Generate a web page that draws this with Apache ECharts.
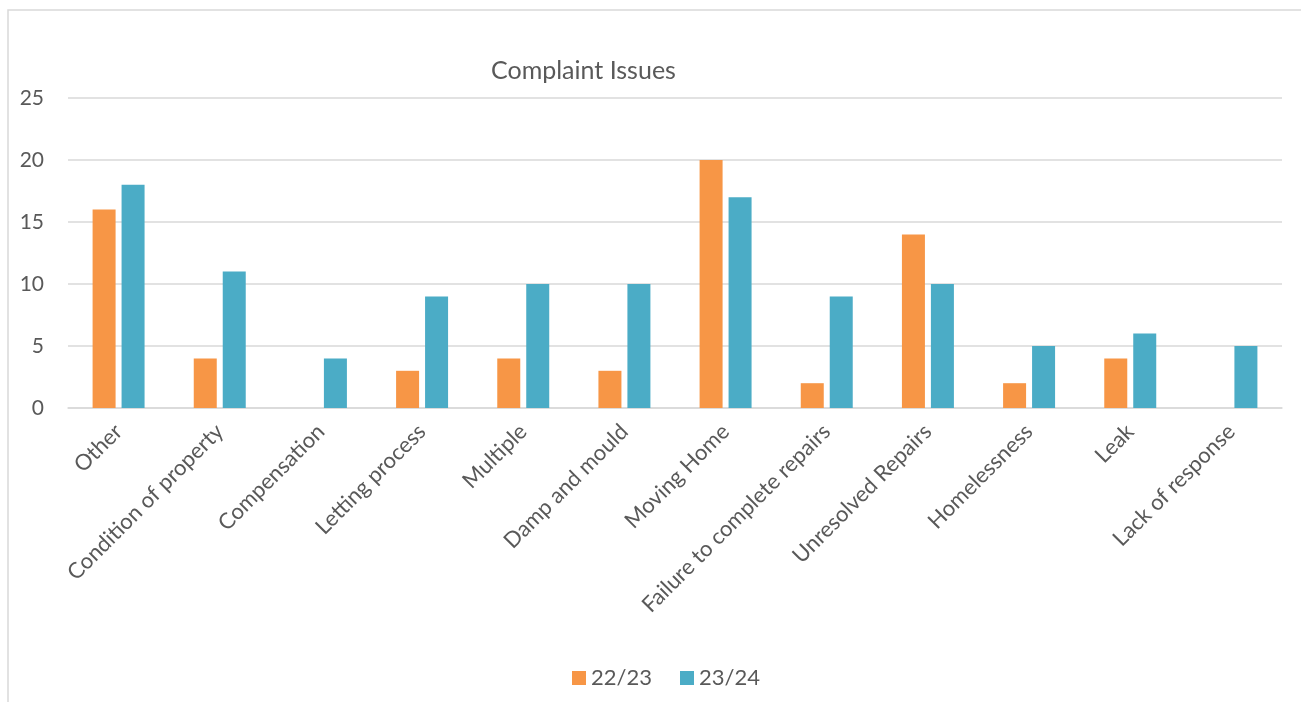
<!DOCTYPE html>
<html>
<head>
<meta charset="utf-8">
<script src="https://cdn.jsdelivr.net/npm/echarts@6/dist/echarts.min.js"></script>
<style>
  html, body { margin: 0; padding: 0; background: #fff; }
  #main { width: 1301px; height: 702px; }
</style>
</head>
<body>
<div id="main"></div>
<script>
// categories and values
var categories = [
  "Other", "Condition of property", "Compensation", "Letting process",
  "Multiple", "Damp and mould", "Moving Home", "Failure to complete repairs",
  "Unresolved Repairs", "Homelessness", "Leak", "Lack of response"
];
var data2223 = [16, 4, 0, 3, 4, 3, 20, 2, 14, 2, 4, 0];
var data2324 = [18, 11, 4, 9, 10, 10, 17, 9, 10, 5, 6, 5];
var yTicks = [0, 5, 10, 15, 20, 25];

var myChart = echarts.init(document.getElementById("main"));
var option = {
  animation: false,
  textStyle: { fontFamily: "Lato" },
  // chart border
  graphic: [
    {
      type: "rect",
      shape: { x: 8, y: 10, width: 1300, height: 700 },
      style: { fill: "none", stroke: "#d9d9d9", lineWidth: 1.5 }
    }
  ],
  title: {
    text: "Complaint Issues",
    left: 486,
    top: 53,
    textStyle: { fontSize: 25, fontWeight: "normal", color: "#595959", fontFamily: "Lato" }
  },
  legend: {
    top: 662,
    left: 567,
    itemWidth: 14,
    itemHeight: 14,
    itemGap: 28,
    icon: "rect",
    textStyle: { fontSize: 22, color: "#595959", fontFamily: "Lato" },
    data: ["22/23", "23/24"]
  },
  grid: {
    left: 68,
    right: 19,
    top: 98,
    bottom: 294,
    containLabel: false
  },
  xAxis: {
    type: "category",
    data: categories,
    axisTick: { show: false },
    axisLine: { lineStyle: { color: "#d9d9d9", width: 1.5 } },
    axisLabel: {
      interval: 0,
      rotate: 45,
      fontSize: 22,
      color: "#595959",
      margin: 20
    }
  },
  yAxis: {
    type: "value",
    min: yTicks[0],
    max: yTicks[yTicks.length - 1],
    interval: 5,
    axisLine: { show: false },
    axisTick: { show: false },
    axisLabel: { fontSize: 21, color: "#595959", margin: 24, align: "right" },
    splitLine: { lineStyle: { color: "#d9d9d9", width: 1.5 } }
  },
  series: [
    {
      name: "22/23",
      type: "bar",
      data: data2223,
      barWidth: 23,
      barGap: "26%",
      itemStyle: { color: "#F79646" }
    },
    {
      name: "23/24",
      type: "bar",
      data: data2324,
      barWidth: 23,
      itemStyle: { color: "#4BACC6" }
    }
  ]
};
myChart.setOption(option);
</script>
</body>
</html>
